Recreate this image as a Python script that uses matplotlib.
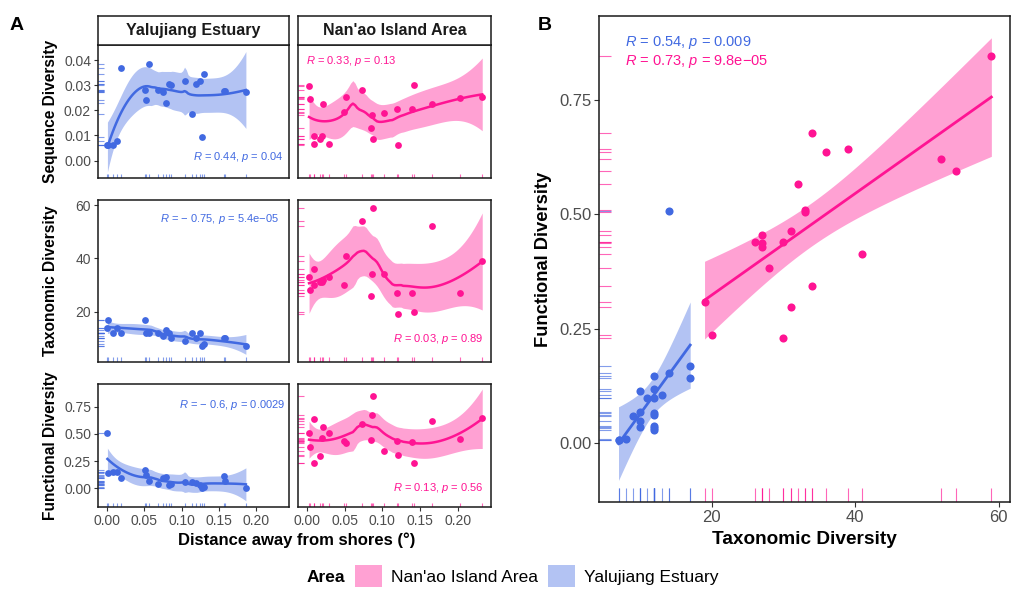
import numpy as np
import matplotlib
matplotlib.use('Agg')
import matplotlib.pyplot as plt
from matplotlib.patches import Patch

plt.rcParams['font.family'] = ['Liberation Sans', 'DejaVu Sans']
plt.rcParams['mathtext.fontset'] = 'custom'
plt.rcParams['mathtext.rm'] = 'Liberation Sans'
plt.rcParams['mathtext.it'] = 'Liberation Sans:italic'

# ── Data ─────────────────────────────────────────────────────────────────────
areas = ["Yalujiang Estuary", "Nan'ao Island Area"]

yalu_dist = [0.001, 0.002, 0.009, 0.014, 0.019, 0.051, 0.053, 0.056, 0.069, 0.075, 0.079,
             0.083, 0.086, 0.104, 0.114, 0.120, 0.125, 0.128, 0.130, 0.157, 0.158, 0.186]
yalu_seq = [0.0062, 0.0060, 0.0062, 0.0076, 0.0369, 0.0280, 0.0241, 0.0387, 0.0281, 0.0273, 0.0228,
            0.0307, 0.0300, 0.0317, 0.0184, 0.0307, 0.0316, 0.0093, 0.0345, 0.0276, 0.0276, 0.0274]
yalu_tax = [14, 17, 12, 14, 12, 17, 12, 12, 12, 11, 13, 12, 10, 9, 12, 10, 12, 7, 8, 10, 10, 7]
yalu_func = [0.506, 0.143, 0.146, 0.154, 0.098, 0.168, 0.118, 0.066, 0.038, 0.098, 0.105,
             0.028, 0.036, 0.060, 0.061, 0.049, 0.033, 0.006, 0.009, 0.113, 0.067, 0.006]

nanao_dist = [0.003, 0.004, 0.009, 0.010, 0.018, 0.020, 0.022, 0.029, 0.049, 0.052, 0.073,
              0.085, 0.086, 0.088, 0.102, 0.119, 0.120, 0.139, 0.142, 0.165, 0.203, 0.232]
nanao_seq = [0.0299, 0.0247, 0.0097, 0.0065, 0.0084, 0.0097, 0.0225, 0.0066, 0.0194, 0.0255, 0.0283,
             0.0129, 0.0180, 0.0085, 0.0190, 0.0204, 0.0060, 0.0205, 0.0301, 0.0224, 0.0250, 0.0255]
nanao_tax = [33, 28, 36, 30, 31, 31, 32, 33, 30, 41, 54, 26, 34, 59, 34, 27, 19, 27, 20, 52, 27, 39]
nanao_func = [0.509, 0.383, 0.635, 0.230, 0.297, 0.463, 0.566, 0.505, 0.439, 0.414, 0.593,
              0.440, 0.677, 0.845, 0.344, 0.437, 0.309, 0.429, 0.236, 0.621, 0.454, 0.643]

seq_stats = ['$\\it{R}$ = 0.44, $\\it{p}$ = 0.04', '$\\it{R}$ = 0.33, $\\it{p}$ = 0.13']
tax_stats = ['$\\it{R}$ = \u2212 0.75, $\\it{p}$ = 5.4e\u221205', '$\\it{R}$ = 0.03, $\\it{p}$ = 0.89']
func_stats = ['$\\it{R}$ = \u2212 0.6, $\\it{p}$ = 0.0029', '$\\it{R}$ = 0.13, $\\it{p}$ = 0.56']
b_stats = ['$\\it{R}$ = 0.54, $\\it{p}$ = 0.009', '$\\it{R}$ = 0.73, $\\it{p}$ = 9.8e\u221205']

# ── Colours ──────────────────────────────────────────────────────────────────
BLUE = '#4169E1'
PINK = '#FF1493'
TICK = '#4D4D4D'
STRIP = '#E3E3E3'

W, H = 1024, 598
fig = plt.figure(figsize=(W / 100, H / 100), dpi=100)
fig.patch.set_facecolor('white')


def px_axes(l, t, r, b):
    return fig.add_axes([l / W, 1 - b / H, (r - l) / W, (b - t) / H])


def t975(df):
    z = 1.959964
    return (z + (z**3 + z) / (4 * df) + (5 * z**5 + 16 * z**3 + 3 * z) / (96 * df**2)
            + (3 * z**7 + 19 * z**5 + 17 * z**3 - 15 * z) / (384 * df**3))


def loess(x, y, span=0.75, n_out=80):
    x = np.asarray(x, float)
    y = np.asarray(y, float)
    n = len(x)
    q = int(np.floor(n * span))

    def row(x0):
        d = np.abs(x - x0)
        h = np.sort(d)[q - 1] * 1.0000001
        w = (1 - np.clip(d / h, 0, 1) ** 3) ** 3
        X = np.column_stack([np.ones(n), x - x0, (x - x0) ** 2])
        XtW = X.T * w
        return np.linalg.solve(XtW @ X, XtW)[0]

    L = np.array([row(xi) for xi in x])
    res = y - L @ y
    M = (np.eye(n) - L).T @ (np.eye(n) - L)
    d1, d2 = np.trace(M), np.trace(M @ M)
    sigma = np.sqrt(np.sum(res**2) / d1)
    t = t975(d1**2 / d2)
    xs = np.linspace(x.min(), x.max(), n_out)
    Ls = np.array([row(x0) for x0 in xs])
    fit = Ls @ y
    se = sigma * np.sqrt((Ls**2).sum(1))
    return xs, fit, fit - t * se, fit + t * se


def linfit(x, y, n_out=80):
    x = np.asarray(x, float)
    y = np.asarray(y, float)
    n = len(x)
    b, a = np.polyfit(x, y, 1)
    s = np.sqrt(np.sum((y - (a + b * x))**2) / (n - 2))
    xs = np.linspace(x.min(), x.max(), n_out)
    fit = a + b * xs
    se = s * np.sqrt(1 / n + (xs - x.mean())**2 / np.sum((x - x.mean())**2))
    t = t975(n - 2)
    return xs, fit, fit - t * se, fit + t * se


def rugs(ax, xv, yv, color):
    ax.vlines(xv, 0, 0.03, color=color, lw=0.8, alpha=0.65,
              transform=ax.get_xaxis_transform(), zorder=2)
    ax.hlines(yv, 0, 0.03, color=color, lw=0.8, alpha=0.65,
              transform=ax.get_yaxis_transform(), zorder=2)


def style(ax, lw=1.1):
    for sp in ax.spines.values():
        sp.set_color('#1A1A1A')
        sp.set_linewidth(lw)
    ax.set_facecolor('white')


# ── Panel A ──────────────────────────────────────────────────────────────────
dists = [yalu_dist, nanao_dist]
colors = [BLUE, PINK]
rows = [
    ('Sequence Diversity', [yalu_seq, nanao_seq], seq_stats, (-0.0071, 0.0461),
     [0, 0.01, 0.02, 0.03, 0.04], ['0.00', '0.01', '0.02', '0.03', '0.04'], (45, 178.3)),
    ('Taxonomic Diversity', [yalu_tax, nanao_tax], tax_stats, (1.25, 61.9),
     [20, 40, 60], ['20', '40', '60'], (200, 361.7)),
    ('Functional Diversity', [yalu_func, nanao_func], func_stats, (-0.169, 0.958),
     [0, 0.25, 0.5, 0.75], ['0.00', '0.25', '0.50', '0.75'], (384, 506.7)),
]
cols_px = [(98, 289), (298, 491)]
# stats label placement (axes fraction): x, y, ha, va
stat_pos = [
    [(0.97, 0.16, 'right', 'center'), (0.04, 0.88, 'left', 'center')],
    [(0.95, 0.88, 'right', 'center'), (0.96, 0.14, 'right', 'center')],
    [(0.98, 0.83, 'right', 'center'), (0.96, 0.15, 'right', 'center')],
]

for r, (ylab, vals, stats_txt, ylim, yt, ytl, (top, bot)) in enumerate(rows):
    for c in range(2):
        ax = px_axes(cols_px[c][0], top, cols_px[c][1], bot)
        style(ax)
        xv, yv, col = dists[c], vals[c], colors[c]
        rugs(ax, xv, yv, col)
        xs, fit, lo, hi = loess(xv, yv)
        ax.fill_between(xs, lo, hi, color=col, alpha=0.4, lw=0, zorder=3)
        ax.plot(xs, fit, color=col, lw=1.8, zorder=4)
        ax.scatter(xv, yv, color=col, s=24, linewidths=0, zorder=5)
        ax.set_xlim(-0.0116, 0.2436)
        ax.set_ylim(*ylim)
        sx, sy, ha, va = stat_pos[r][c]
        ax.text(sx, sy, stats_txt[c], transform=ax.transAxes, ha=ha, va=va,
                fontsize=8, color=col)
        if c == 0:
            ax.set_yticks(yt)
            ax.set_yticklabels(ytl)
        else:
            ax.set_yticks([])
        if r == 2:
            ax.set_xticks([0, 0.05, 0.10, 0.15, 0.20])
            ax.set_xticklabels(['0.00', '0.05', '0.10', '0.15', '0.20'])
        else:
            ax.set_xticks([])
        ax.tick_params(length=3, width=0.8, color='#333333', labelcolor=TICK,
                       labelsize=10, pad=2)
        if r == 0:
            sax = px_axes(cols_px[c][0], 15.7, cols_px[c][1], 45)
            sax.set_facecolor(STRIP)
            style(sax)
            sax.set_xticks([])
            sax.set_yticks([])
            sax.text(0.5, 0.5, areas[c], ha='center', va='center', fontsize=11.5,
                     fontweight='bold', color='#1A1A1A', transform=sax.transAxes)
    fig.text(50.5 / W, 1 - (top + bot) / 2 / H, ylab, rotation=90, ha='center',
             va='center', fontsize=11.2, fontweight='bold')

fig.text(297 / W, 1 - 540 / H, 'Distance away from shores (\u00b0)', ha='center',
         va='center', fontsize=12, fontweight='bold')
fig.text(17 / W, 1 - 26 / H, 'A', ha='center', va='center', fontsize=14, fontweight='bold')

# ── Panel B ──────────────────────────────────────────────────────────────────
axb = px_axes(599, 15.7, 1010, 502.3)
style(axb)
b_tax = [yalu_tax, nanao_tax]
b_func = [yalu_func, nanao_func]
for c in range(2):
    col = colors[c]
    rugs(axb, b_tax[c], b_func[c], col)
    xs, fit, lo, hi = linfit(b_tax[c], b_func[c])
    axb.fill_between(xs, lo, hi, color=col, alpha=0.4, lw=0, zorder=3)
    axb.plot(xs, fit, color=col, lw=2.0, zorder=4)
    axb.scatter(b_tax[c], b_func[c], color=col, s=34, linewidths=0, zorder=5)
    axb.text(0.063, 0.945 - c * 0.039, b_stats[c], transform=axb.transAxes, ha='left',
             va='center', fontsize=10.5, color=col)
axb.set_xlim(4.28, 61.6)
axb.set_ylim(-0.129, 0.933)
axb.set_xticks([20, 40, 60])
axb.set_yticks([0, 0.25, 0.5, 0.75])
axb.set_yticklabels(['0.00', '0.25', '0.50', '0.75'])
axb.tick_params(length=3.5, width=0.8, color='#333333', labelcolor=TICK,
                labelsize=12, pad=2)
fig.text(804.5 / W, 1 - 540 / H, 'Taxonomic Diversity', ha='center', va='center',
         fontsize=13.7, fontweight='bold')
fig.text(543 / W, 1 - 259 / H, 'Functional Diversity', rotation=90, ha='center',
         va='center', fontsize=13.2, fontweight='bold')
fig.text(545 / W, 1 - 26 / H, 'B', ha='center', va='center', fontsize=14, fontweight='bold')

# ── Legend ───────────────────────────────────────────────────────────────────
fig.text(326 / W, 1 - 577 / H, 'Area', ha='center', va='center', fontsize=12.5,
         fontweight='bold')
handles = [Patch(facecolor=PINK, alpha=0.4, edgecolor='none', label=areas[1]),
           Patch(facecolor=BLUE, alpha=0.4, edgecolor='none', label=areas[0])]
fig.legend(handles=handles, loc='center left', bbox_to_anchor=(355 / W, 1 - 576 / H),
           ncol=2, frameon=False, fontsize=12.5, handlelength=1.55, handleheight=1.55,
           handletextpad=0.55, columnspacing=0.55, borderpad=0, borderaxespad=0)

fig.savefig('out.png', dpi=100, facecolor='white')
